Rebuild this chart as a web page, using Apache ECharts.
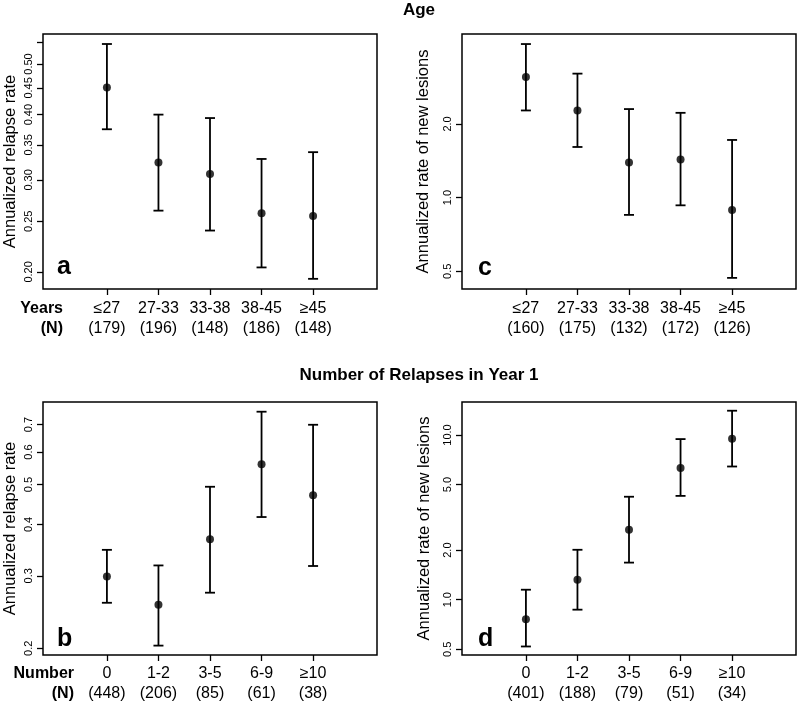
<!DOCTYPE html>
<html>
<head>
<meta charset="utf-8">
<script src="https://cdn.jsdelivr.net/npm/echarts@6/dist/echarts.min.js"></script>
<style>
  html, body { margin: 0; padding: 0; background: #fff; }
  #chart { width: 800px; height: 704px; }
</style>
</head>
<body>
<div id="chart"></div>
<script>
// categories and group sizes
const ageCats = ['≤27', '27-33', '33-38', '38-45', '≥45'];
const ageNRelapse = [179, 196, 148, 186, 148];
const ageNLesion = [160, 175, 132, 172, 126];
const relCats = ['0', '1-2', '3-5', '6-9', '≥10'];
const relNRelapse = [448, 206, 85, 61, 38];
const relNLesion = [401, 188, 79, 51, 34];

// a: annualized relapse rate by age
const aRate = [0.451, 0.324, 0.308, 0.259, 0.256];
const aLow = [0.375, 0.262, 0.240, 0.204, 0.194];
const aHigh = [0.546, 0.400, 0.394, 0.329, 0.339];
// c: annualized rate of new lesions by age
const cRate = [3.11, 2.27, 1.39, 1.43, 0.89];
const cLow = [2.27, 1.61, 0.85, 0.93, 0.47];
const cHigh = [4.24, 3.21, 2.30, 2.22, 1.72];
// b: annualized relapse rate by relapses in year 1
const bRate = [0.299, 0.255, 0.368, 0.560, 0.471];
const bLow = [0.258, 0.203, 0.273, 0.417, 0.317];
const bHigh = [0.347, 0.318, 0.494, 0.752, 0.699];
// d: annualized rate of new lesions by relapses in year 1
const dRate = [0.76, 1.32, 2.66, 6.30, 9.49];
const dLow = [0.52, 0.87, 1.68, 4.27, 6.44];
const dHigh = [1.15, 2.01, 4.22, 9.45, 14.05];

// y tick values / labels (log scale)
const aTicks = [0.20, 0.25, 0.30, 0.35, 0.40, 0.45, 0.50, 0.55];
const aTickLabels = ['0.20', '0.25', '0.30', '0.35', '0.40', '0.45', '0.50', ''];
const bTicks = [0.2, 0.3, 0.4, 0.5, 0.6, 0.7];
const bTickLabels = ['0.2', '0.3', '0.4', '0.5', '0.6', '0.7'];
const cTicks = [0.5, 1, 2];
const cTickLabels = ['0.5', '1.0', '2.0'];
const dTicks = [0.5, 1, 2, 5, 10];
const dTickLabels = ['0.5', '1.0', '2.0', '5.0', '10.0'];

const FONT = 'Liberation Sans, Arial, Helvetica, sans-serif';
const lg = v => Math.log10(v);
const xPos = [1, 2, 3, 4, 5];

const panels = [
  { grid: { left: 43, top: 34, width: 334, height: 255 }, ymin: 0.1855, ymax: 0.5706,
    ticks: aTicks, labels: aTickLabels, name: 'Annualized relapse rate', gap: 24,
    cats: ageCats, n: ageNRelapse, rate: aRate, low: aLow, high: aHigh, lm: 10 },
  { grid: { left: 462, top: 34, width: 334, height: 255 }, ymin: 0.4233, ymax: 4.66,
    ticks: cTicks, labels: cTickLabels, name: 'Annualized rate of new lesions', gap: 30,
    cats: ageCats, n: ageNLesion, rate: cRate, low: cLow, high: cHigh, lm: 10 },
  { grid: { left: 43, top: 402, width: 334, height: 254 }, ymin: 0.1926, ymax: 0.794,
    ticks: bTicks, labels: bTickLabels, name: 'Annualized relapse rate', gap: 24,
    cats: relCats, n: relNRelapse, rate: bRate, low: bLow, high: bHigh, lm: 9 },
  { grid: { left: 462, top: 402, width: 334, height: 253 }, ymin: 0.4616, ymax: 15.87,
    ticks: dTicks, labels: dTickLabels, name: 'Annualized rate of new lesions', gap: 29,
    cats: relCats, n: relNLesion, rate: dRate, low: dLow, high: dHigh, lm: 9 }
];

const grids = [], xAxes = [], yAxes = [], series = [];

panels.forEach((p, i) => {
  grids.push(Object.assign({ show: true, borderColor: '#000', borderWidth: 1.5,
    backgroundColor: 'transparent' }, p.grid));

  xAxes.push({
    type: 'value', gridIndex: i, min: -0.24, max: 6.24,
    axisLine: { show: false, onZero: false },
    splitLine: { show: false },
    axisTick: { show: true, length: 6, customValues: xPos,
      lineStyle: { color: '#000', width: 1.3 } },
    axisLabel: {
      customValues: xPos, margin: p.lm, color: '#000', fontFamily: FONT,
      fontSize: 16, lineHeight: 20,
      formatter: v => {
        const k = Math.round(v) - 1;
        return p.cats[k] + '\n(' + p.n[k] + ')';
      }
    }
  });

  const tv = p.ticks.map(lg);
  yAxes.push({
    type: 'value', gridIndex: i, min: lg(p.ymin), max: lg(p.ymax),
    name: p.name, nameLocation: 'middle', nameGap: p.gap, nameRotate: 90,
    nameTextStyle: { color: '#000', fontFamily: FONT, fontSize: 16.5 },
    axisLine: { show: false, onZero: false },
    splitLine: { show: false },
    axisTick: { show: true, length: 6, customValues: tv,
      lineStyle: { color: '#000', width: 1.3 } },
    axisLabel: {
      customValues: tv, rotate: 90, margin: 9, color: '#000',
      fontFamily: FONT, fontSize: 11,
      formatter: v => {
        let best = 0;
        tv.forEach((t, k) => { if (Math.abs(t - v) < Math.abs(tv[best] - v)) best = k; });
        return p.labels[best];
      }
    }
  });

  series.push({
    type: 'custom', xAxisIndex: i, yAxisIndex: i,
    data: xPos.map((x, k) => [x, lg(p.low[k]), lg(p.high[k])]),
    renderItem: (params, api) => {
      const x = api.value(0);
      const top = api.coord([x, api.value(2)]);
      const bot = api.coord([x, api.value(1)]);
      const w = 5;
      const style = { stroke: '#000', lineWidth: 1.8 };
      return {
        type: 'group',
        children: [
          { type: 'line', shape: { x1: top[0], y1: top[1], x2: bot[0], y2: bot[1] }, style },
          { type: 'line', shape: { x1: top[0] - w, y1: top[1], x2: top[0] + w, y2: top[1] }, style },
          { type: 'line', shape: { x1: bot[0] - w, y1: bot[1], x2: bot[0] + w, y2: bot[1] }, style }
        ]
      };
    },
    silent: true, z: 2
  });

  series.push({
    type: 'scatter', xAxisIndex: i, yAxisIndex: i,
    data: xPos.map((x, k) => [x, lg(p.rate[k])]),
    symbol: 'circle', symbolSize: 8,
    itemStyle: { color: '#000' }, silent: true, z: 3
  });
});

const txt = (x, y, text, size, align, bold) => ({
  type: 'text', x, y, silent: true,
  style: { text, fill: '#000', font: (bold ? 'bold ' : '') + size + 'px ' + FONT,
    textAlign: align, textVerticalAlign: 'middle' }
});

const chart = echarts.init(document.getElementById('chart'));
chart.setOption({
  animation: false,
  backgroundColor: '#fff',
  grid: grids,
  xAxis: xAxes,
  yAxis: yAxes,
  series,
  graphic: [
    txt(419, 10, 'Age', 17, 'center', true),
    txt(419, 375, 'Number of Relapses in Year 1', 17, 'center', true),
    txt(63, 309, 'Years', 16, 'right', true),
    txt(63, 329, '(N)', 16, 'right', true),
    txt(74, 674, 'Number', 16, 'right', true),
    txt(74, 694, '(N)', 16, 'right', true),
    txt(57, 267, 'a', 25, 'left', true),
    txt(478, 268, 'c', 25, 'left', true),
    txt(57, 639, 'b', 25, 'left', true),
    txt(478, 639, 'd', 25, 'left', true)
  ]
});
</script>
</body>
</html>
